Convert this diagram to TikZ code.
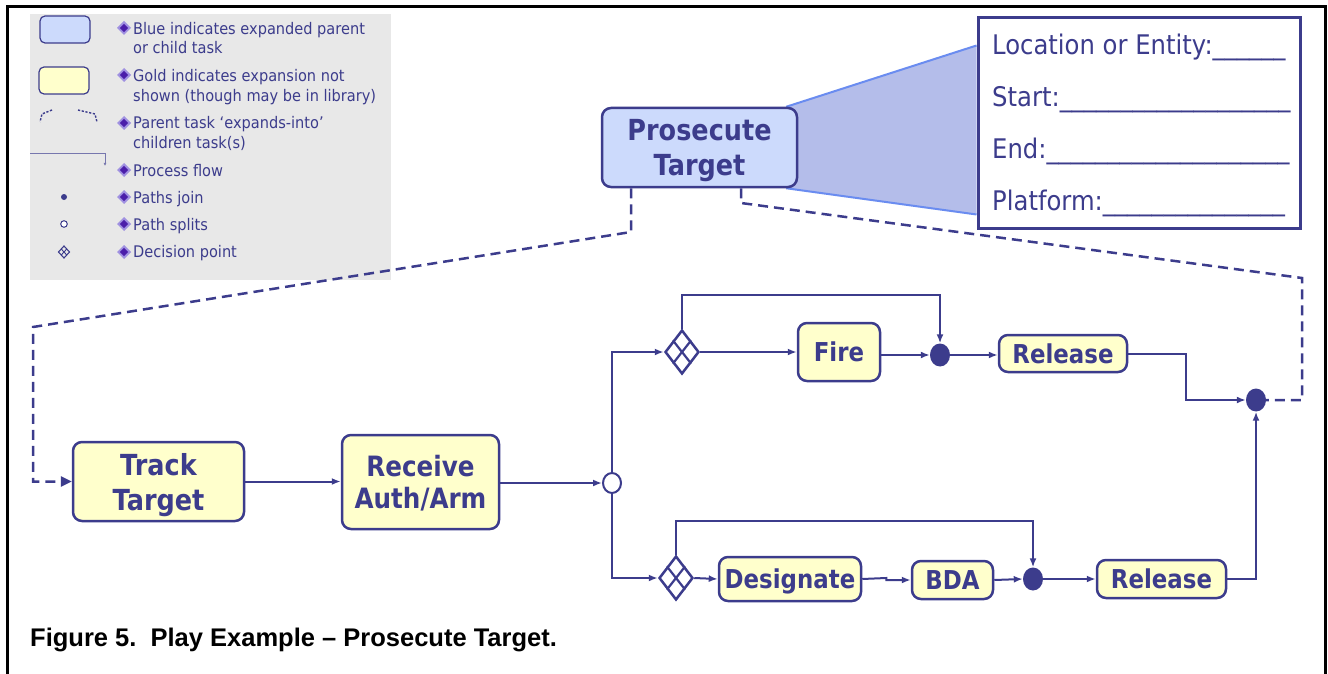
\documentclass[tikz,border=0pt]{standalone}
\usepackage{fontspec}
\usetikzlibrary{arrows.meta,shapes.geometric,backgrounds,calc}
\setmainfont{DejaVu Sans}
\newfontfamily\boxfont[FakeStretch=0.88]{DejaVu Sans}
\newfontfamily\formfont[FakeStretch=0.9]{DejaVu Sans}
\newfontfamily\legfont[FakeStretch=0.91]{DejaVu Sans}
\newfontfamily\capfont{Liberation Sans}
\definecolor{navy}{RGB}{60,60,140}
\definecolor{gold}{RGB}{255,255,204}
\definecolor{paleblue}{RGB}{204,218,252}
\definecolor{trapfill}{RGB}{180,189,234}
\definecolor{trapedge}{RGB}{106,140,240}
\definecolor{leggray}{RGB}{232,232,232}
\definecolor{bulletout}{RGB}{160,145,225}
\definecolor{bulletin}{RGB}{75,30,170}
\tikzset{
  task/.style={draw=navy, line width=2.5pt, rounded corners=9pt, fill=gold, text=navy,
    inner sep=0pt, align=center, text depth=0pt, font=\boxfont\bfseries\fontsize{26}{30}\selectfont},
  bigtask/.style={task, font=\boxfont\bfseries\fontsize{29}{35}\selectfont},
  flow/.style={draw=navy, line width=2pt, -{Latex[length=9pt,width=7pt]}},
  joindot/.style={ellipse, fill=navy, minimum width=20pt, minimum height=23pt, inner sep=0pt},
  splitdot/.style={ellipse, draw=navy, fill=white, line width=2pt, minimum width=18pt,
    minimum height=20pt, inner sep=0pt},
  decision/.style={diamond, draw=navy, fill=white, line width=2.5pt, minimum width=34pt,
    minimum height=44pt, inner sep=0pt},
  expand/.style={draw=navy, line width=2.5pt, dash pattern=on 10pt off 6pt},
  legtext/.style={anchor=base west, inner sep=0pt, text=navy, font=\legfont\fontsize{16}{19}\selectfont},
  formtext/.style={anchor=base west, inner sep=0pt, text=navy, font=\formfont\fontsize{27}{32}\selectfont},
}
\newcommand{\legbullet}[1]{%
  \fill[bulletout] (124,#1) -- ++(7,0) -- ++(-7,7) -- ++(-7,-7) -- cycle;
  \fill[bulletout] (124,#1) -- ++(7,0) -- ++(-7,-7) -- ++(-7,7) -- cycle;
  \fill[bulletin] (124,#1) ++(4.2,0) -- ++(-4.2,4.2) -- ++(-4.2,-4.2) -- ++(4.2,-4.2) -- cycle;}
\begin{document}
\begin{tikzpicture}[x=1pt,y=-1pt]
\useasboundingbox (0,0) rectangle (1328,674);

% page frame
\draw[line width=3pt,line cap=rect] (7,674) -- (7,7) -- (1325,7) -- (1325,674);

% ---- legend ----
\fill[leggray] (30,14) rectangle (391,280);
\draw[navy, line width=1.2pt, fill=paleblue, rounded corners=5pt] (40,16) rectangle (90,43);
\draw[navy, line width=1.2pt, fill=gold, rounded corners=5pt] (39,67) rectangle (89,94);
\draw[navy, line width=1.4pt, dash pattern=on 2.2pt off 1.6pt] (52,110) -- (42,114) -- (40,122);
\draw[navy, line width=1.4pt, dash pattern=on 2.2pt off 1.6pt] (78,110) -- (95,114) -- (97,122);
\draw[navy!70, line width=0.9pt, -{Latex[length=3pt,width=3pt]}] (30,153) -- (105,153) -- (105,166);
\fill[navy] (64,197) circle (3pt);
\draw[navy, line width=1pt, fill=white] (64,224) circle (3.3pt);
\draw[navy, line width=1.1pt] (64,246) -- (69.5,252) -- (64,258) -- (58.5,252) -- cycle;
\draw[navy, line width=0.9pt] (66.75,249) -- (61.25,255) (61.25,249) -- (66.75,255);

\legbullet{28}\legbullet{75}\legbullet{123}\legbullet{170}\legbullet{197}\legbullet{224}\legbullet{252}
\node[legtext] at (133,35) {Blue indicates expanded parent};
\node[legtext] at (133,54) {or child task};
\node[legtext] at (133,82) {Gold indicates expansion not};
\node[legtext] at (133,102) {shown (though may be in library)};
\node[legtext] at (133,129) {Parent task ‘expands-into’};
\node[legtext] at (133,149) {children task(s)};
\node[legtext] at (133,176) {Process flow};
\node[legtext] at (133,203) {Paths join};
\node[legtext] at (133,230) {Path splits};
\node[legtext] at (133,257) {Decision point};

% ---- parent task and its attribute form ----
\node[draw=navy, line width=3pt, fill=white, minimum width=322pt, minimum height=210pt,
      inner sep=0pt] (info) at (1139,123) {};
\node[formtext] at (992,55) {Location or Entity:\_\_\_\_\_\_};
\node[formtext] at (992,107) {Start:\_\_\_\_\_\_\_\_\_\_\_\_\_\_\_\_\_\_\_};
\node[formtext] at (992,159) {End:\_\_\_\_\_\_\_\_\_\_\_\_\_\_\_\_\_\_\_\_};
\node[formtext] at (992,210) {Platform:\_\_\_\_\_\_\_\_\_\_\_\_\_\_\_};

\node[bigtask, fill=paleblue, minimum width=195pt, minimum height=79pt] (pt) at (699.5,147.5)
  {Prosecute\\Target};

\begin{scope}[on background layer]
  \coordinate (ta) at ($(pt.north east)+(-12,0)$);
  \coordinate (tb) at ($(pt.south east)+(-12,0)$);
  \coordinate (tc) at ($(info.north west)+(0,29)$);
  \coordinate (td) at ($(info.south west)+(0,-15)$);
  \fill[trapfill] (pt.center) -- (ta) -- (tc) -- (td) -- (tb) -- cycle;
  \draw[trapedge, line width=2pt] (ta) -- (tc) (tb) -- (td);
\end{scope}

% ---- child tasks ----
\node[bigtask, minimum width=171pt, minimum height=79pt] (track) at (158.5,481.5) {Track\\Target};
\node[bigtask, minimum width=157pt, minimum height=94pt,
      font=\boxfont\bfseries\fontsize{28}{32}\selectfont] (recv) at (420.5,482) {Receive\\Auth/Arm};
\node[splitdot] (split) at (612,483) {};

\node[decision] (d1) at (682,352) {};
\draw[navy, line width=2.2pt] (d1.north east) -- (d1.south west) (d1.north west) -- (d1.south east);
\node[task, minimum width=82pt, minimum height=58pt] (fire) at (839,352) {Fire};
\node[joindot] (j1) at (940,355) {};
\node[task, minimum width=128pt, minimum height=37pt] (rel1) at (1063,353.5) {Release};

\node[decision] (d2) at (676,578) {};
\draw[navy, line width=2.2pt] (d2.north east) -- (d2.south west) (d2.north west) -- (d2.south east);
\node[task, minimum width=142pt, minimum height=44pt] (desig) at (790,579) {Designate};
\node[task, minimum width=81pt, minimum height=38pt] (bda) at (952.5,580) {BDA};
\node[joindot] (j2) at (1033,579) {};
\node[task, minimum width=129pt, minimum height=38pt] (rel2) at (1161.5,579) {Release};

\node[joindot] (j3) at (1256,400) {};

% ---- process flow ----
\coordinate (top1) at (0,295);
\coordinate (top2) at (0,521);
\coordinate (k1) at (1186,400);
\draw[flow] (track.east) -- (track.east -| recv.west);
\draw[flow] (recv.east |- split) -- (split.west);
\draw[flow] (split.north) |- (d1.west);
\draw[flow] (split.south) |- (d2.west);
\draw[flow] (d1.north) -- (d1.north |- top1) -| (j1.north);
\draw[flow] (d1.east) -- (fire.west);
\draw[flow] (fire.east |- j1) -- (j1.west);
\draw[flow] (j1.east) -- (rel1.west |- j1);
\draw[flow] (rel1.east) -| (k1) -- (j3.west);
\draw[flow] (d2.north) -- (d2.north |- top2) -| (j2.north);
\draw[flow] (d2.east) -- (desig.west);
\draw[flow] (desig.east) -- ++(24,-1) |- (bda.west);
\draw[flow] (bda.east) -- (j2.west);
\draw[flow] (j2.east) -- (rel2.west);
\draw[flow] (rel2.east) -| (j3.south);

% ---- expands-into links ----
\coordinate (l1) at (631,232);
\coordinate (l2) at (33,327);
\coordinate (r1) at (741,203);
\coordinate (r2) at (1302,278);
\draw[expand, -{Triangle[length=11pt,width=10pt]}] (l1 |- pt.south) -- (l1) -- (l2) -- (l2 |- track) -- (track.west);
\draw[expand] (r1 |- pt.south) -- (r1) -- (r2) -- (r2 |- j3) -- (j3.east);

% ---- caption ----
\node[anchor=base west, inner sep=0pt, font=\capfont\bfseries\fontsize{25.5}{30}\selectfont]
  (cap) at (30,646) {Figure 5.\ \ Play Example – Prosecute Target.};
\end{tikzpicture}
\end{document}
